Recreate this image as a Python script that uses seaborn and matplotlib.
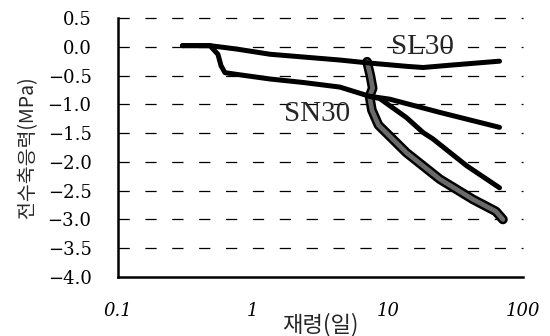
import numpy as np
import pandas as pd
import matplotlib
matplotlib.use('Agg')
import matplotlib.pyplot as plt
import seaborn as sns

# values (age in days, stress in MPa)
sl30_age = [0.30, 0.48, 0.76, 1.34, 4.4, 7.1, 13.8, 18.2, 28.8, 67]
sl30_stress = [0.02, 0.02, -0.04, -0.13, -0.23, -0.28, -0.34, -0.36, -0.32, -0.25]

sn30_age = [0.30, 0.48, 0.55, 0.58, 0.62, 0.76, 1.34, 2.35, 4.4, 7.3, 10.3, 24.2, 67]
sn30_stress = [0.02, 0.02, -0.13, -0.33, -0.45, -0.48, -0.56, -0.62, -0.70, -0.86, -0.91, -1.14, -1.40]

branch_age = [7.3, 8.7, 13.7, 18.2, 21.5, 38.4, 67]
branch_stress = [-0.86, -0.90, -1.23, -1.49, -1.60, -2.07, -2.45]

marker_age = [7.0, 7.4, 7.7, 7.3, 7.6, 8.5, 13.7, 24.2, 42.5, 63, 71]
marker_stress = [-0.26, -0.50, -0.72, -0.86, -1.10, -1.36, -1.84, -2.30, -2.65, -2.86, -3.0]

yticks = [0.5, 0.0, -0.5, -1.0, -1.5, -2.0, -2.5, -3.0, -3.5, -4.0]
xticks = [0.1, 1, 10, 100]
xtick_labels = ['0.1', '1', '10', '100']

sns.set_theme(style='white')
plt.rcParams['font.family'] = ['DejaVu Serif']
plt.rcParams['axes.unicode_minus'] = True

fig = plt.figure(figsize=(5.5, 3.36), dpi=100)
ax = fig.add_axes([0.2145, 0.1756, 0.7364, 0.7708])

ax.set_xscale('log')
ax.set_xlim(0.1, 100)
ax.set_ylim(-4.0, 0.5)

# dashed horizontal grid
for yv in yticks[:-1]:
    ax.axhline(yv, color='black', lw=0.9, linestyle=(0, (9, 12.5)), zorder=1, clip_on=False)

# hollow-marker band (drawn as outlined dark grey band)
sns.lineplot(x=marker_age, y=marker_stress, sort=False, estimator=None, ax=ax,
             color='black', lw=7.0, zorder=3, solid_capstyle='round', solid_joinstyle='round')
sns.lineplot(x=marker_age, y=marker_stress, sort=False, estimator=None, ax=ax,
             color='#6a6a6a', lw=3.4, zorder=3, solid_capstyle='round', solid_joinstyle='round')

for xs, ys in [(sl30_age, sl30_stress), (sn30_age, sn30_stress), (branch_age, branch_stress)]:
    sns.lineplot(x=xs, y=ys, sort=False, estimator=None, ax=ax,
                 color='black', lw=3.6, zorder=4, solid_capstyle='round', solid_joinstyle='round')

ax.text(17.9, 0.0, 'SL30', fontsize=21, ha='center', va='center', zorder=5,
        family=['Liberation Serif'])
ax.text(2.98, -1.17, 'SN30', fontsize=21, ha='center', va='center', zorder=5,
        family=['Liberation Serif'])

# axes styling
for s in ['top', 'right']:
    ax.spines[s].set_visible(False)
for s in ['left', 'bottom']:
    ax.spines[s].set_color('black')
    ax.spines[s].set_linewidth(1.8)

ax.set_yticks(yticks)
ax.set_yticklabels(['%.1f' % v if v >= 0 else '\u2212%.1f' % abs(v) for v in yticks],
                   fontsize=13, family=['DejaVu Serif'])
ax.tick_params(axis='y', direction='in', length=4, width=1.8, pad=19, colors='black')

ax.set_xticks(xticks)
ax.set_xticklabels(xtick_labels, fontsize=13, style='italic', family=['DejaVu Serif'])
ax.xaxis.set_minor_locator(matplotlib.ticker.LogLocator(base=10, subs=np.arange(2, 10)))
ax.xaxis.set_minor_formatter(matplotlib.ticker.NullFormatter())
ax.tick_params(axis='x', which='major', direction='in', length=4, width=1.2, pad=18, colors='black')
ax.tick_params(axis='x', which='minor', direction='in', length=4, width=1.2, colors='black')

ax.set_xlabel('재령(일)', fontsize=16, family=['Noto Sans CJK KR', 'DejaVu Sans'], labelpad=-5)
ax.set_ylabel('전수축응력(MPa)', fontsize=14, family=['Noto Sans CJK KR', 'DejaVu Sans'], labelpad=7)

fig.savefig('out.png', dpi=100, facecolor='white')
